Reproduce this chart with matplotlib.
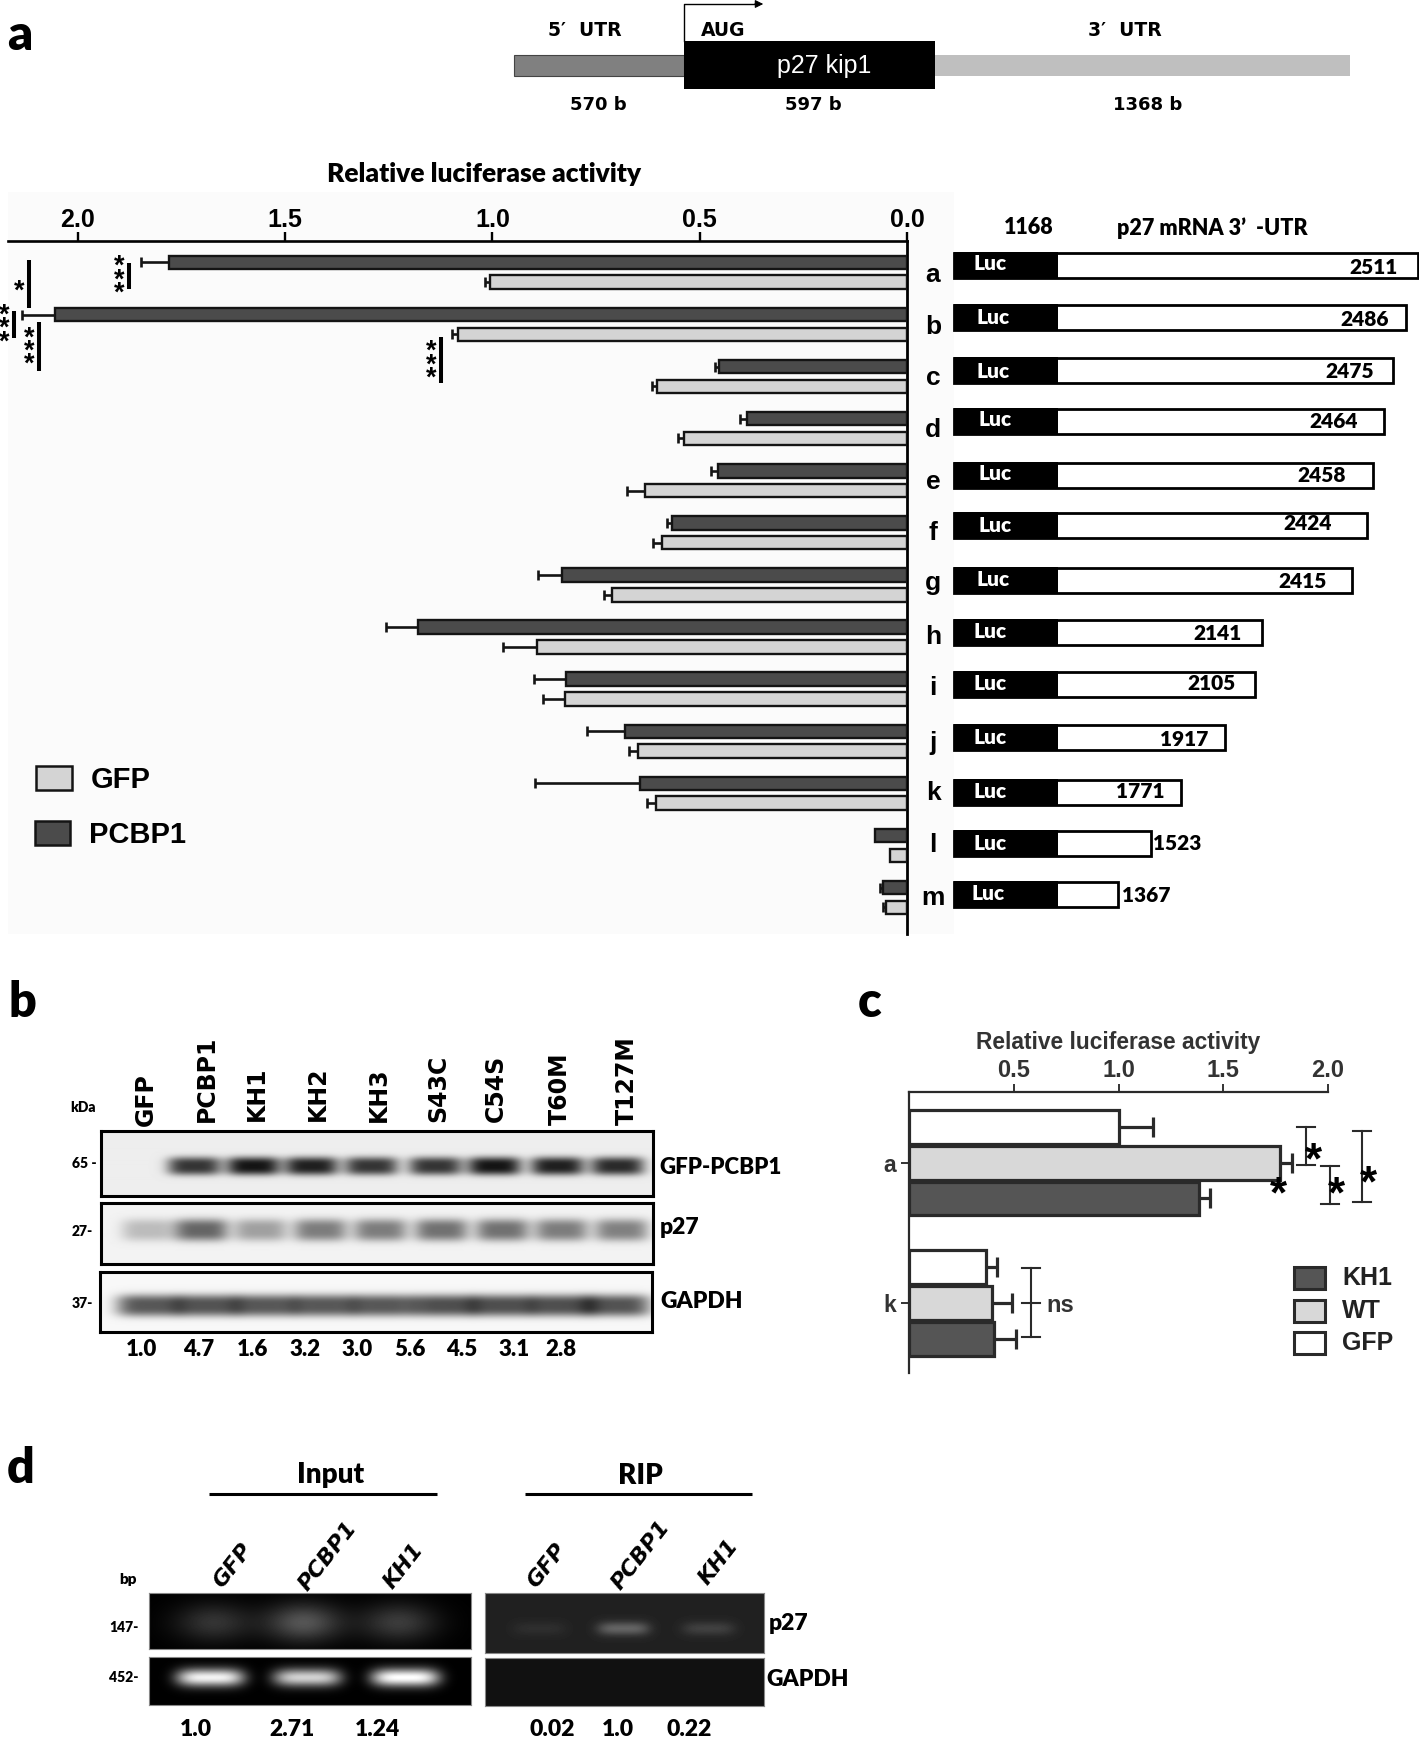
import numpy as np
import matplotlib
matplotlib.use("Agg")
import matplotlib.pyplot as plt

W, H = 1419, 1737
plt.rcParams['font.family'] = ['Liberation Sans', 'DejaVu Sans']

# ---------- panel a data ----------
rows = list("abcdefghijklm")
pcbp1 = [1.779, 2.056, .454, .385, .457, .567, .833, 1.18, .822, .679, .645, .078, .057]
pcbp1_err = [.069, .079, .008, .018, .016, .011, .057, .077, .077, .093, .252, 0, .007]
gfp = [1.005, 1.082, .604, .539, .631, .591, .711, .893, .825, .648, .605, .041, .05]
gfp_err = [.012, .015, .012, .014, .045, .021, .019, .081, .052, .022, .023, 0, .007]
ticks_a = [2.0, 1.5, 1.0, 0.5, 0.0]
construct_labels = ["2511", "2486", "2475", "2464", "2458", "2424", "2415", "2141", "2105", "1917", "1771", "1523", "1367"]
construct_right = [1418, 1406, 1393, 1384, 1373, 1367, 1352, 1262, 1255, 1225, 1181, 1151, 1118]
# positions
construct_y = [265, 317.5, 370.5, 421.5, 475, 525, 580, 632, 684, 737, 792, 843, 894]
construct_lab_x = [1374, 1365, 1350, 1334, 1322, 1308, 1303, 1218, 1212, 1184, 1140, 1177, 1146]
construct_lab_y = [267, 319, 372, 421, 476, 524, 582, 633, 683, 739, 792, 843, 895]
luc_x = [990, 993, 993, 995, 995, 995, 993, 990, 990, 990, 990, 990, 988]
luc_y = [263, 317, 372, 419, 473, 525, 580, 632, 683, 738, 792, 843, 893]
row_y = [275, 327, 378, 430, 482, 533, 583, 637, 688, 743, 793, 845, 898]

# ---------- panel c data ----------
c_groups = ["a", "k"]
c_gfp = [1.0, 0.369]
c_gfp_err = [0.163, 0.050]
c_wt = [1.773, 0.397]
c_wt_err = [0.057, 0.095]
c_kh1 = [1.384, 0.407]
c_kh1_err = [0.053, 0.102]
ticks_c = [0.5, 1.0, 1.5, 2.0]

# ---------- panel b data ----------
lanes_b = ["GFP", "PCBP1", "KH1", "KH2", "KH3", "S43C", "C54S", "T60M", "T127M"]
lanes_b_x = [146, 207, 257, 318, 379, 438, 496, 560, 627]
lanes_b_bottom = [1126, 1122, 1121, 1121, 1122, 1122, 1122, 1125, 1125]
quant_b = ["1.0", "4.7", "1.6", "3.2", "3.0", "5.6", "4.5", "3.1", "2.8"]
quant_b_x = [142, 199, 253, 305, 357, 410, 462, 514, 561]
blot1_x = [194, 253, 311, 371, 435, 494, 557, 617]
blot1_i = [.85, 1.0, .95, .85, .85, 1.0, .95, .9]
blot2_x = [148, 201, 260, 320, 380, 441, 502, 561, 621]
blot2_i = [.28, .72, .42, .6, .6, .66, .66, .6, .58]
blot3_x = [149, 207, 265, 324, 383, 444, 502, 561, 617]
blot3_i = [.72, .74, .72, .72, .72, .76, .76, .76, .74]

# ---------- panel d data ----------
lanes_d = ["GFP", "PCBP1", "KH1"]
quant_input = ["1.0", "2.71", "1.24"]
quant_input_x = [196, 292, 377]
quant_rip = ["0.02", "1.0", "0.22"]
quant_rip_x = [552, 618, 689]
in_p27_x = [213, 303, 398]
in_p27_i = [.2, .33, .23]
in_gapdh_x = [210, 307, 405]
in_gapdh_i = [.95, .82, 1.0]
rip_p27_x = [539, 623, 708]
rip_p27_i = [.06, .30, .14]

DARK, LIGHT = '#4b4b4b', '#d4d4d4'
EDGE = '#141414'

fig = plt.figure(figsize=(W / 100, H / 100), dpi=100, facecolor='white')


def pxaxes(x0, y0, x1, y1, **kw):
    return fig.add_axes([x0 / W, 1 - y1 / H, (x1 - x0) / W, (y1 - y0) / H], **kw)


# overlay in pixel coordinates for annotation and diagrams
ov = pxaxes(0, 0, W, H, zorder=10)
ov.set_xlim(0, W)
ov.set_ylim(H, 0)
ov.axis('off')
ov.patch.set_alpha(0)
bg = pxaxes(8, 192, 954, 934, zorder=0)
bg.set_facecolor('#fbfbfb')
bg.set_xticks([]); bg.set_yticks([])
for s in bg.spines.values():
    s.set_visible(False)


def T(x, y, s, size=15, weight='heavy', fam='Lato', color='black', ha='center', va='center', **kw):
    return ov.text(x, y, s, fontsize=size, fontweight=weight, family=fam, color=color, ha=ha, va=va, **kw)


def star(x, y, px=34):
    # asterisk glyph sits high in the em box; shift baseline so its centre lands on y
    ov.text(x, y + 0.57 * px, '*', fontsize=px * 0.72, fontweight='bold', family='Liberation Sans',
            ha='center', va='baseline', color='black')


# ---------- panel letters ----------
for x, y, s in [(20, 50, 'a'), (22, 1017, 'b'), (870, 1017, 'c'), (21, 1483, 'd')]:
    T(x, y, s, size=35, va='baseline')

# ---------- gene diagram ----------
ov.barh(65.5, 170, left=514, height=21, color='#808080', edgecolor='#444444', lw=0.8)
ov.barh(65.5, 416, left=934, height=21, color='#bfbfbf', edgecolor='none')
ov.barh(65, 251, left=684, height=48, color='black', edgecolor='none')
ov.plot([684, 684, 758], [41, 4, 4], color='black', lw=1.0)
ov.annotate('', xy=(766, 4), xytext=(752, 4), arrowprops=dict(arrowstyle='-|>', color='black', lw=0.8, mutation_scale=12))
T(585, 30, "5\u2032  UTR", size=13.5, weight='bold', fam='DejaVu Sans')
T(723, 30, "AUG", size=13.5, weight='bold', fam='DejaVu Sans')
T(1125, 30, "3\u2032  UTR", size=13.5, weight='bold', fam='DejaVu Sans')
T(824, 66, "p27 kip1", size=18, weight='normal', fam='Liberation Sans', color='white')
T(598, 105, "570 b", size=13, weight='bold', fam='DejaVu Sans')
T(813, 105, "597 b", size=13, weight='bold', fam='DejaVu Sans')
T(1148, 105, "1368 b", size=13, weight='bold', fam='DejaVu Sans')

# ---------- panel a bars ----------
axa = pxaxes(8, 240.7, 907, 934, zorder=2)
axa.patch.set_alpha(0)
axa.set_xlim(899 / 414.6, 0)
axa.set_ylim((934 - 272.3) / 52.1, (240.7 - 272.3) / 52.1)
idx = np.arange(len(rows))
for off, vals, errs, col in [(-0.19, pcbp1, pcbp1_err, DARK), (0.19, gfp, gfp_err, LIGHT)]:
    axa.barh(idx + off, vals, height=0.26, color=col, edgecolor=EDGE, lw=1.7, zorder=3)
    v, e = np.array(vals), np.array(errs)
    m = e > 0
    axa.hlines((idx + off)[m], v[m], (v + e)[m], color=EDGE, lw=1.9, zorder=2)
    axa.plot((v + e)[m], (idx + off)[m], '|', color=EDGE, ms=7.5, mew=1.9, zorder=2)
axa.xaxis.tick_top()
axa.set_xticks(ticks_a)
axa.set_xticklabels([f"{t:.1f}" for t in ticks_a], fontsize=18, fontweight='bold', family='Liberation Sans')
axa.tick_params(axis='x', length=6.5, width=1.7, pad=0)
axa.set_yticks([])
axa.spines['left'].set_visible(False)
axa.spines['bottom'].set_visible(False)
axa.spines['right'].set_linewidth(2)
axa.spines['top'].set_linewidth(1.9)
T(484, 174, "Relative luciferase activity", size=19)

# significance bars panel a
for x, y0, y1 in [(129, 263, 289), (28.6, 260, 308), (13.8, 311, 338), (38.8, 322, 371), (440.6, 337, 383)]:
    ov.plot([x, x], [y0, y1], color='black', lw=2.9, solid_capstyle='butt')
for x, ys in [(119, [258, 272, 285]), (18.7, [283]), (4.5, [307, 320, 334]), (29, [330, 343, 356]), (431, [343, 357, 370])]:
    for y in ys:
        star(x, y, px=27)

# legend panel a
ov.barh(778, 36, left=36, height=24, color=LIGHT, edgecolor=EDGE, lw=1.8)
ov.barh(833, 35, left=35, height=24, color=DARK, edgecolor=EDGE, lw=1.8)
T(91, 780, "GFP", size=21, weight='bold', fam='Liberation Sans', ha='left')
T(89, 835, "PCBP1", size=21, weight='bold', fam='Liberation Sans', ha='left')

# constructs
T(1029, 228, "1168", size=15.5)
T(1117, 228, "p27 mRNA 3\u2019  -UTR", size=15.5, ha='left')
for i, r in enumerate(rows):
    ov.barh(construct_y[i], construct_right[i] - 954, left=954, height=25, color='white', edgecolor='black', lw=2)
    ov.barh(construct_y[i], 104, left=954, height=27, color='black', edgecolor='none')
    T(luc_x[i], luc_y[i], "Luc", size=15, color='white')
    T(construct_lab_x[i], construct_lab_y[i], construct_labels[i], size=15)
    T(933, row_y[i], r, size=19, weight='bold', fam='Liberation Sans')


# ---------- gels ----------
def gel(x0, y0, x1, y1, xs, ints, yc, hw, hh, bgv, fgv, frame, lw, p=4, q=2):
    ax = pxaxes(x0, y0, x1, y1, zorder=3)
    xx, yy = np.meshgrid(np.arange(x0, x1), np.arange(y0, y1))
    z = np.zeros_like(xx, dtype=float)
    for xc, a in zip(xs, ints):
        z = z + a * np.exp(-np.abs((xx - xc) / hw) ** p - np.abs((yy - yc) / hh) ** q)
    img = bgv + (fgv - bgv) * np.clip(z, 0, 1)
    ax.imshow(img, cmap='gray', vmin=0, vmax=1, aspect='auto', interpolation='bilinear')
    ax.set_xticks([]); ax.set_yticks([])
    for s in ax.spines.values():
        s.set_color(frame); s.set_linewidth(lw)
    return ax


gel(101, 1131, 653, 1196, blot1_x, blot1_i, 1166, 27, 9, .93, .08, 'black', 2.2, q=3)
gel(101, 1203, 653, 1264, blot2_x, blot2_i, 1230, 27, 11, .95, .18, 'black', 2.2, q=3)
gel(100, 1272, 651.5, 1332, blot3_x, blot3_i, 1305, 33, 11, .97, .1, 'black', 2.2, q=3)

for i, s in enumerate(lanes_b):
    T(lanes_b_x[i], lanes_b_bottom[i], s, size=17, weight='bold', fam='DejaVu Sans', rotation=90, va='bottom')
    T(quant_b_x[i], 1350, quant_b[i], size=16)
T(83, 1107, "kDa", size=10)
T(84, 1163, "65 -", size=10)
T(82, 1232, "27-", size=10)
T(82, 1303, "37-", size=10)
T(659, 1168, "GFP-PCBP1", size=16, ha='left')
T(660, 1228, "p27", size=16.5, ha='left')
T(660, 1301, "GAPDH", size=16.5, ha='left')

gel(149, 1593, 471, 1649, in_p27_x, in_p27_i, 1622, 38, 19, 0.0, 1.0, '#888888', 0.8, p=2)
gel(149, 1657, 471, 1705, in_gapdh_x, in_gapdh_i, 1677, 34, 9, 0.0, 1.0, '#888888', 0.8)
gel(485, 1593, 764, 1653, rip_p27_x, rip_p27_i, 1628, 26, 7, 0.13, 1.0, '#888888', 0.8)
gel(485, 1658, 764, 1706, [], [], 1680, 30, 10, 0.07, 1.0, '#888888', 0.8)

T(331, 1475, "Input", size=20)
T(640, 1476, "RIP", size=20)
ov.plot([209, 437], [1493.5, 1493.5], color='black', lw=2.2, solid_capstyle='butt')
ov.plot([525, 752], [1493.5, 1493.5], color='black', lw=2.2, solid_capstyle='butt')
for xs, ys in [([233, 328, 404], [1566, 1556, 1566]), ([547, 641, 719], [1566, 1555, 1562])]:
    for x, y, s in zip(xs, ys, lanes_d):
        T(x, y, s, size=16, weight='bold', fam='DejaVu Sans', rotation=52, style='italic', rotation_mode='anchor')
T(128, 1580, "bp", size=11)
T(124, 1627, "147-", size=10)
T(124, 1678, "452-", size=10)
T(769, 1623, "p27", size=16.5, ha='left')
T(766, 1680, "GAPDH", size=16.5, ha='left')
for x, s in zip(quant_input_x, quant_input):
    T(x, 1729, s, size=16.5)
for x, s in zip(quant_rip_x, quant_rip):
    T(x, 1729, s, size=16.5)

# ---------- panel c bars ----------
axc = pxaxes(909, 1091.7, 1340, 1373, zorder=2)
axc.patch.set_alpha(0)
axc.set_xlim(0, 431 / 209.5)
axc.set_ylim((1373 - 1162.7) / 140.3, (1091.7 - 1162.7) / 140.3)
cidx = np.arange(len(c_groups))
for off, vals, errs, col in [(-0.255, c_gfp, c_gfp_err, 'white'), (0.0, c_wt, c_wt_err, '#d8d8d8'), (0.255, c_kh1, c_kh1_err, '#555555')]:
    axc.barh(cidx + off, vals, height=0.24, color=col, edgecolor='#2a2a2a', lw=2.3, zorder=3)
    v, e = np.array(vals), np.array(errs)
    axc.hlines(cidx + off, v, v + e, color='#2a2a2a', lw=2.3, zorder=2)
    axc.plot(v + e, cidx + off, '|', color='#2a2a2a', ms=14, mew=2.3, zorder=2)
axc.xaxis.tick_top()
axc.set_xticks(ticks_c)
axc.set_xticklabels([f"{t:.1f}" for t in ticks_c], fontsize=17, fontweight='bold', color='#333333', family='Liberation Sans')
axc.set_yticks(cidx)
axc.set_yticklabels(c_groups, fontsize=16.5, fontweight='bold', color='#333333', family='Liberation Sans')
axc.tick_params(axis='x', length=6, width=1.4, pad=1, color='#333333')
axc.tick_params(axis='y', length=6, width=1.4, pad=3, color='#333333')
axc.spines['right'].set_visible(False)
axc.spines['bottom'].set_visible(False)
axc.spines['left'].set_linewidth(1.6)
axc.spines['top'].set_linewidth(1.6)
axc.spines['left'].set_color('#2a2a2a')
axc.spines['top'].set_color('#2a2a2a')
axc.spines['top'].set_bounds(0, 2.0)
T(1118, 1043, "Relative luciferase activity", size=16.4, weight='bold', fam='Liberation Sans', color='#333333')


def bracket(x, y0, y1, w=18, mid=None):
    c = '#2a2a2a'
    ov.plot([x, x], [y0, y1], color=c, lw=1.5)
    ov.plot([x - w / 2, x + w / 2], [y0, y0], color=c, lw=1.5)
    ov.plot([x - w / 2, x + w / 2], [y1, y1], color=c, lw=1.5)
    if mid:
        ov.plot([x - w / 2, x + w / 2], [mid, mid], color=c, lw=1.5)


bracket(1306, 1127, 1165)
bracket(1330, 1166, 1204)
bracket(1362, 1131, 1202)
bracket(1031, 1268, 1337, mid=1303)
for x, y in [(1313, 1148), (1336, 1182), (1368, 1171), (1278, 1182)]:
    star(x, y, px=44)
T(1060, 1305, "ns", size=17, weight='bold', fam='Liberation Sans', color='#333333')
for y, col, s in [(1278, '#555555', 'KH1'), (1310.5, '#d8d8d8', 'WT'), (1343, 'white', 'GFP')]:
    ov.barh(y, 31, left=1294, height=22, color=col, edgecolor='#2a2a2a', lw=2.2)
    T(1342, y, s, size=18, weight='bold', fam='Liberation Sans', color='#222222', ha='left')

fig.savefig('out.png', dpi=100)
